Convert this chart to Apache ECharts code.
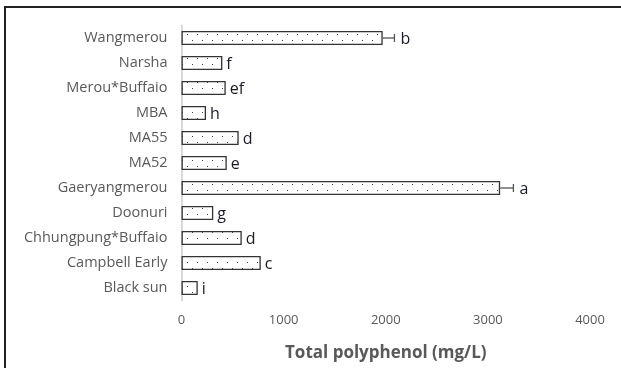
<!DOCTYPE html>
<html>
<head>
<meta charset="utf-8">
<script src="https://cdn.jsdelivr.net/npm/echarts@6/dist/echarts.min.js"></script>
<style>
html,body{margin:0;padding:0;background:#fff;}
#c{width:621px;height:368px;}
</style>
</head>
<body>
<div id="c"></div>
<script>
// Data (top to bottom)
var categories = ['Wangmerou','Narsha','Merou*Buffaio','MBA','MA55','MA52','Gaeryangmerou','Doonuri','Chhungpung*Buffaio','Campbell Early','Black sun'];
var values = [1970, 400, 433, 240, 560, 443, 3120, 311, 590, 776, 159];
var errors = [115, 0, 0, 0, 0, 0, 130, 0, 0, 0, 0];
var letters = ['b','f','ef','h','d','e','a','g','d','c','i'];
var xTicks = [0, 1000, 2000, 3000, 4000];

var pc = document.createElement('canvas');
pc.width = 10; pc.height = 12;
var ctx = pc.getContext('2d');
ctx.fillStyle = '#fff';
ctx.fillRect(0,0,10,12);
ctx.fillStyle = '#444';
ctx.fillRect(2,4,1,1);
ctx.fillRect(7,10,1,1);

var chart = echarts.init(document.getElementById('c'), null, {renderer:'canvas'});
var errData = values.map(function(v,i){ return [v, i, errors[i]]; });

chart.setOption({
  animation: false,
  backgroundColor: '#fff',
  grid: {left: 181.5, right: 31, top: 25.5, height: 275, containLabel: false},
  xAxis: {
    type: 'value', min: xTicks[0], max: xTicks[xTicks.length-1], interval: 1000,
    axisLine: {show: false}, axisTick: {show: false}, splitLine: {show: false},
    axisLabel: {color: '#595959', fontSize: 13, fontFamily: 'Open Sans', margin: 13,
      formatter: function(v){ return String(v); }},
    name: 'Total polyphenol (mg/L)', nameLocation: 'middle', nameGap: 44,
    nameTextStyle: {color: '#595959', fontSize: 17, fontWeight: 'bold', fontFamily: 'Open Sans'}
  },
  yAxis: {
    type: 'category', data: categories, inverse: true,
    axisLine: {show: true, lineStyle: {color: '#d9d9d9', width: 2}},
    axisTick: {show: false},
    axisLabel: {color: '#595959', fontSize: 14.5, fontFamily: 'Open Sans', margin: 14}
  },
  series: [
    {
      type: 'bar', data: values, barWidth: 14,
      itemStyle: {color: {image: pc, repeat: 'repeat'}, borderColor: '#333', borderWidth: 1.3}
    },
    {
      type: 'custom', data: errData, z: 5,
      renderItem: function(params, api){
        var v = api.value(0), idx = api.value(1), e = api.value(2);
        var p0 = api.coord([v, idx]);
        var p1 = api.coord([v + e, idx]);
        var ch = [];
        if (e > 0) {
          ch.push({type: 'line', shape: {x1: p0[0], y1: p0[1], x2: p1[0], y2: p1[1]}, style: {stroke: '#555', lineWidth: 1.3}});
          ch.push({type: 'line', shape: {x1: p1[0], y1: p1[1]-4, x2: p1[0], y2: p1[1]+4}, style: {stroke: '#555', lineWidth: 1.3}});
        }
        ch.push({type: 'text', style: {text: letters[params.dataIndex], x: p1[0] + (e > 0 ? 6 : 4), y: p1[1] + 1, textVerticalAlign: 'middle', textAlign: 'left', fill: '#1a1a2a', fontSize: 16, fontFamily: 'Open Sans'}});
        return {type: 'group', children: ch};
      }
    }
  ],
  graphic: [
    {type: 'line', shape: {x1: 4, y1: 7, x2: 621, y2: 7}, style: {stroke: '#222', lineWidth: 2}},
    {type: 'line', shape: {x1: 5, y1: 6, x2: 5, y2: 368}, style: {stroke: '#222', lineWidth: 2}}
  ]
});
</script>
</body>
</html>
